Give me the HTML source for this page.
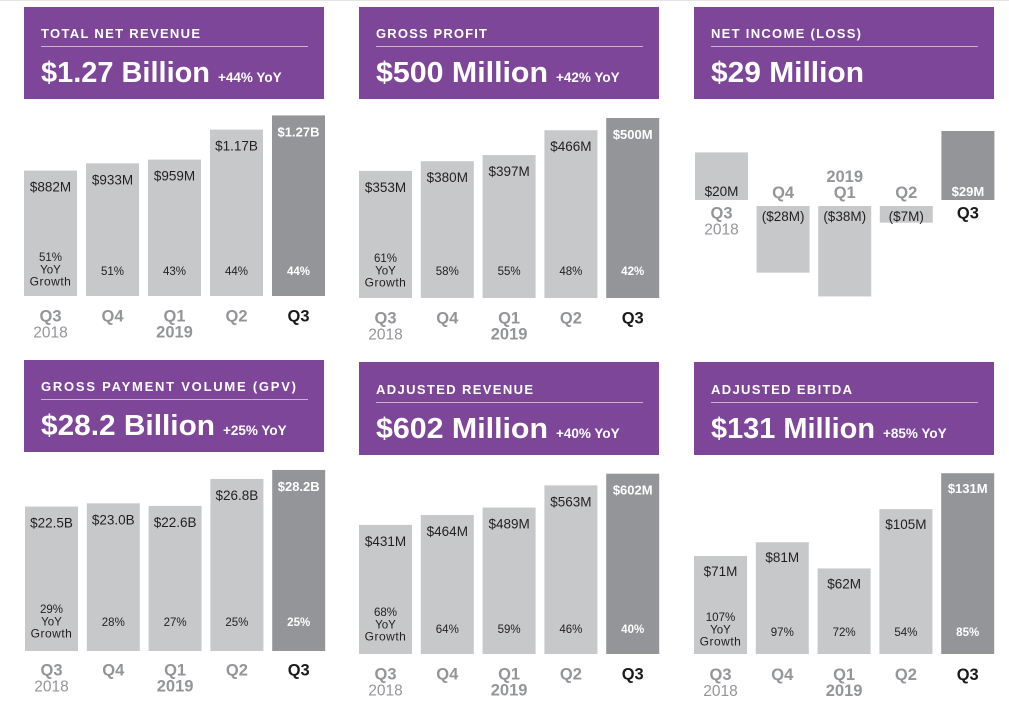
<!DOCTYPE html>
<html lang="en">
<head>
<meta charset="utf-8">
<title>Q3 2019 Financial Highlights</title>
<style>
html,body{margin:0;padding:0;background:#fff;width:1009px;height:704px;overflow:hidden}
svg{display:block;font-family:"Liberation Sans",sans-serif}
</style>
</head>
<body>
<svg id="chart" width="1009" height="704" viewBox="0 0 1009 704" xmlns="http://www.w3.org/2000/svg">
<rect x="0" y="0" width="1009" height="1" fill="#e4e4e4"></rect>
</svg>
<script>
const quarters = ['Q3', 'Q4', 'Q1', 'Q2', 'Q3'];
const years = ['2018', '', '2019', '', ''];

const revenueValues = [882, 933, 959, 1170, 1270];
const revenueLabels = ['$882M', '$933M', '$959M', '$1.17B', '$1.27B'];
const revenueGrowth = ['51%', '51%', '43%', '44%', '44%'];

const profitValues = [353, 380, 397, 466, 500];
const profitLabels = ['$353M', '$380M', '$397M', '$466M', '$500M'];
const profitGrowth = ['61%', '58%', '55%', '48%', '42%'];

const incomeValues = [20, -28, -38, -7, 29];
const incomeLabels = ['$20M', '($28M)', '($38M)', '($7M)', '$29M'];

const gpvValues = [22.5, 23.0, 22.6, 26.8, 28.2];
const gpvLabels = ['$22.5B', '$23.0B', '$22.6B', '$26.8B', '$28.2B'];
const gpvGrowth = ['29%', '28%', '27%', '25%', '25%'];

const adjRevenueValues = [431, 464, 489, 563, 602];
const adjRevenueLabels = ['$431M', '$464M', '$489M', '$563M', '$602M'];
const adjRevenueGrowth = ['68%', '64%', '59%', '46%', '40%'];

const ebitdaValues = [71, 81, 62, 105, 131];
const ebitdaLabels = ['$71M', '$81M', '$62M', '$105M', '$131M'];
const ebitdaGrowth = ['107%', '97%', '72%', '54%', '85%'];

const svg = document.getElementById('chart');
const NS = 'http://www.w3.org/2000/svg';

function make(tag, attrs, text) {
  const el = document.createElementNS(NS, tag);
  for (const k in attrs) el.setAttribute(k, attrs[k]);
  if (text !== undefined) el.textContent = text;
  svg.appendChild(el);
  return el;
}

function label(name, x, y, str, size, fill, weight, anchor, spacing) {
  const el = make('text', {
    x: x, y: y, 'font-size': size, fill: fill,
    'font-weight': weight || 'normal',
    'text-anchor': anchor || 'middle',
    'letter-spacing': spacing || 0
  }, str);
  
  
  return el;
}

function drawHeader(slug, x, y, h, title, titleWidth, big, bigWidth, yoy) {
  const bg = make('rect', {x: x, y: y, width: 300, height: h, fill: '#7d4698'});
  
  
  const off = h > 92 ? 1 : 0;
  const t = label(slug + '-title', x + 17, y + 31 + off, title, 13, '#fff', 'bold', 'start');
  t.setAttribute('textLength', titleWidth);
  t.setAttribute('lengthAdjust', 'spacing');
  const rule = make('rect', {x: x + 17, y: y + 39 + off, width: 267, height: 1, fill: '#c9b0d6'});
  
  
  const b = label(slug + '-headline', x + 17, y + 75 + off, big, 29, '#fff', 'bold', 'start');
  b.setAttribute('textLength', bigWidth);
  b.setAttribute('lengthAdjust', 'spacingAndGlyphs');
  if (yoy) {
    label(slug + '-yoy', x + 17 + bigWidth + 8, y + 75 + off, yoy, 13.5, '#fff', 'bold', 'start');
  }
}

function drawBars(slug, opts, values, labels, growth) {
  const xAt = i => opts.x0 + i * opts.step;
  const yAt = v => opts.zero - v * opts.scale;
  values.forEach((v, i) => {
    const dark = i === values.length - 1;
    const neg = v < 0;
    const start = neg ? opts.zero + opts.gap : yAt(v);
    const h = Math.abs(v) * opts.scale;
    const cx = xAt(i) + 26.5;
    const bar = make('rect', {x: xAt(i), y: start, width: 53, height: h, fill: dark ? '#939598' : '#c6c8ca'});
    
    

    const textFill = dark ? '#fff' : '#231f20';
    const valueY = opts.inside ? (neg ? start + 15 : opts.zero - 4) : start + (opts.valueOff || 21);
    label(slug + '-value-' + i, cx, valueY, labels[i], dark ? 13 : 13.5, textFill, dark ? 'bold' : 'normal');

    if (growth) {
      label(slug + '-growth-' + i, cx, opts.zero - (i === 0 ? opts.growthTop : opts.growthSingle), growth[i], 11.5, textFill, dark ? 'bold' : 'normal');
      if (i === 0) {
        label(slug + '-growth-yoy', cx, opts.zero - opts.growthTop + 12.3, 'YoY', 11.5, textFill);
        label(slug + '-growth-word', cx, opts.zero - opts.growthTop + 24.6, 'Growth', 12, textFill, 'normal', 'middle', 0.5);
      }
    }

    const qFill = dark ? '#1a1a1a' : '#939598';
    const qY = opts.inside ? (neg ? opts.zero - 2 : opts.zero + 18.5) : opts.zero + opts.qOff;
    label(slug + '-quarter-' + i, cx, qY, quarters[i], 16.5, qFill, 'bold');
    if (years[i]) {
      const yearY = neg ? qY - 16 : qY + 16;
      label(slug + '-year-' + i, cx, yearY, years[i], i === 0 ? 15.5 : 16.5, '#939598', i === 0 ? 'normal' : 'bold');
    }
  });
}

drawHeader('total-net-revenue', 24, 7, 92, 'TOTAL NET REVENUE', 159, '$1.27 Billion', 169, '+44% YoY');
drawBars('total-net-revenue', {x0: 24, step: 62, zero: 296, scale: 0.1422, growthSingle: 21, growthTop: 35, qOff: 25.5}, revenueValues, revenueLabels, revenueGrowth);

drawHeader('gross-profit', 359, 7, 92, 'GROSS PROFIT', 111, '$500 Million', 172, '+42% YoY');
drawBars('gross-profit', {x0: 359, step: 61.8, zero: 298, scale: 0.36, growthSingle: 23, growthTop: 36, qOff: 25.5}, profitValues, profitLabels, profitGrowth);

drawHeader('net-income', 694, 7, 92, 'NET INCOME (LOSS)', 150, '$29 Million', 153, '');
drawBars('net-income', {x0: 695, step: 61.6, zero: 200, gap: 6, scale: 2.38, inside: true}, incomeValues, incomeLabels, null);

drawHeader('gross-payment-volume', 24, 360, 92, 'GROSS PAYMENT VOLUME (GPV)', 255, '$28.2 Billion', 174, '+25% YoY');
drawBars('gross-payment-volume', {x0: 25, step: 61.8, zero: 651, scale: 6.42, growthSingle: 25, growthTop: 38, qOff: 24.5}, gpvValues, gpvLabels, gpvGrowth);

drawHeader('adjusted-revenue', 359, 362, 93, 'ADJUSTED REVENUE', 157, '$602 Million', 172, '+40% YoY');
drawBars('adjusted-revenue', {x0: 359, step: 61.8, zero: 654, scale: 0.2995, growthSingle: 21, growthTop: 38, qOff: 25.5}, adjRevenueValues, adjRevenueLabels, adjRevenueGrowth);

drawHeader('adjusted-ebitda', 694, 362, 93, 'ADJUSTED EBITDA', 141, '$131 Million', 164, '+85% YoY');
drawBars('adjusted-ebitda', {x0: 694, step: 61.8, zero: 654, scale: 1.38, valueOff: 20, growthSingle: 18, growthTop: 33, qOff: 26}, ebitdaValues, ebitdaLabels, ebitdaGrowth);
</script>
</body>
</html>
